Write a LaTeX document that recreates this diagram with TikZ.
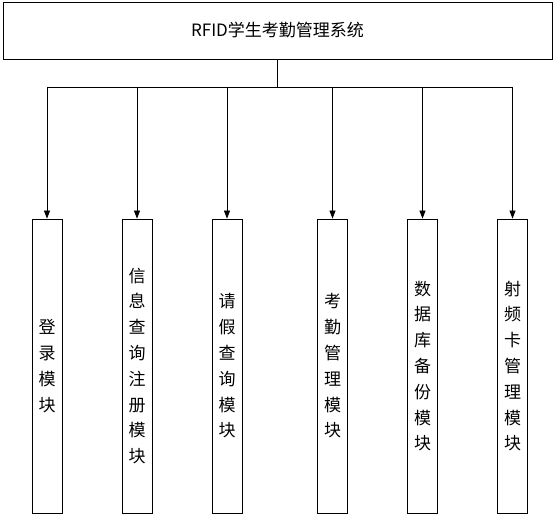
\documentclass[tikz,border=0pt]{standalone}
\usepackage{fontspec}
\newfontfamily\cjk{Noto Sans CJK SC}
\usetikzlibrary{arrows.meta}
\begin{document}
\begin{tikzpicture}[x=1pt,y=-1pt,
  box/.style={draw, line width=0.8pt, inner sep=0pt},
  modbox/.style={box, minimum width=30pt, minimum height=294pt, align=center,
     font=\cjk\fontsize{17}{25.8}\selectfont},
  conn/.style={line width=0.8pt},
  arr/.style={conn, -{Triangle[length=8pt,width=6pt]}}]
\useasboundingbox (0,0) rectangle (556,518);
\node[box, minimum width=549pt, minimum height=57pt, font=\cjk\fontsize{17}{20}\selectfont]
  (top) at (277.5,30.5) {RFID学生考勤管理系统};
\node[modbox] (m1) at (47,366) {登\\录\\模\\块};
\node[modbox] (m2) at (137,366) {信\\息\\查\\询\\注\\册\\模\\块};
\node[modbox] (m3) at (227,366) {请\\假\\查\\询\\模\\块};
\node[modbox] (m4) at (332.5,366) {考\\勤\\管\\理\\模\\块};
\node[modbox] (m5) at (422.5,366) {数\\据\\库\\备\\份\\模\\块};
\node[modbox] (m6) at (512.5,366) {射\\频\\卡\\管\\理\\模\\块};
\coordinate (j) at (277.5,87);
\coordinate (c1) at (47,87);
\coordinate (c2) at (137,87);
\coordinate (c3) at (227,87);
\coordinate (c4) at (332.5,87);
\coordinate (c5) at (422.5,87);
\coordinate (c6) at (512.5,87);
\draw[conn, line width=1.3pt] (top.south) -- (j);
\draw[conn] (c1) -- (c6);
\foreach \i in {1,...,6} \draw[arr] (c\i) -- (m\i.north);
\end{tikzpicture}
\end{document}
